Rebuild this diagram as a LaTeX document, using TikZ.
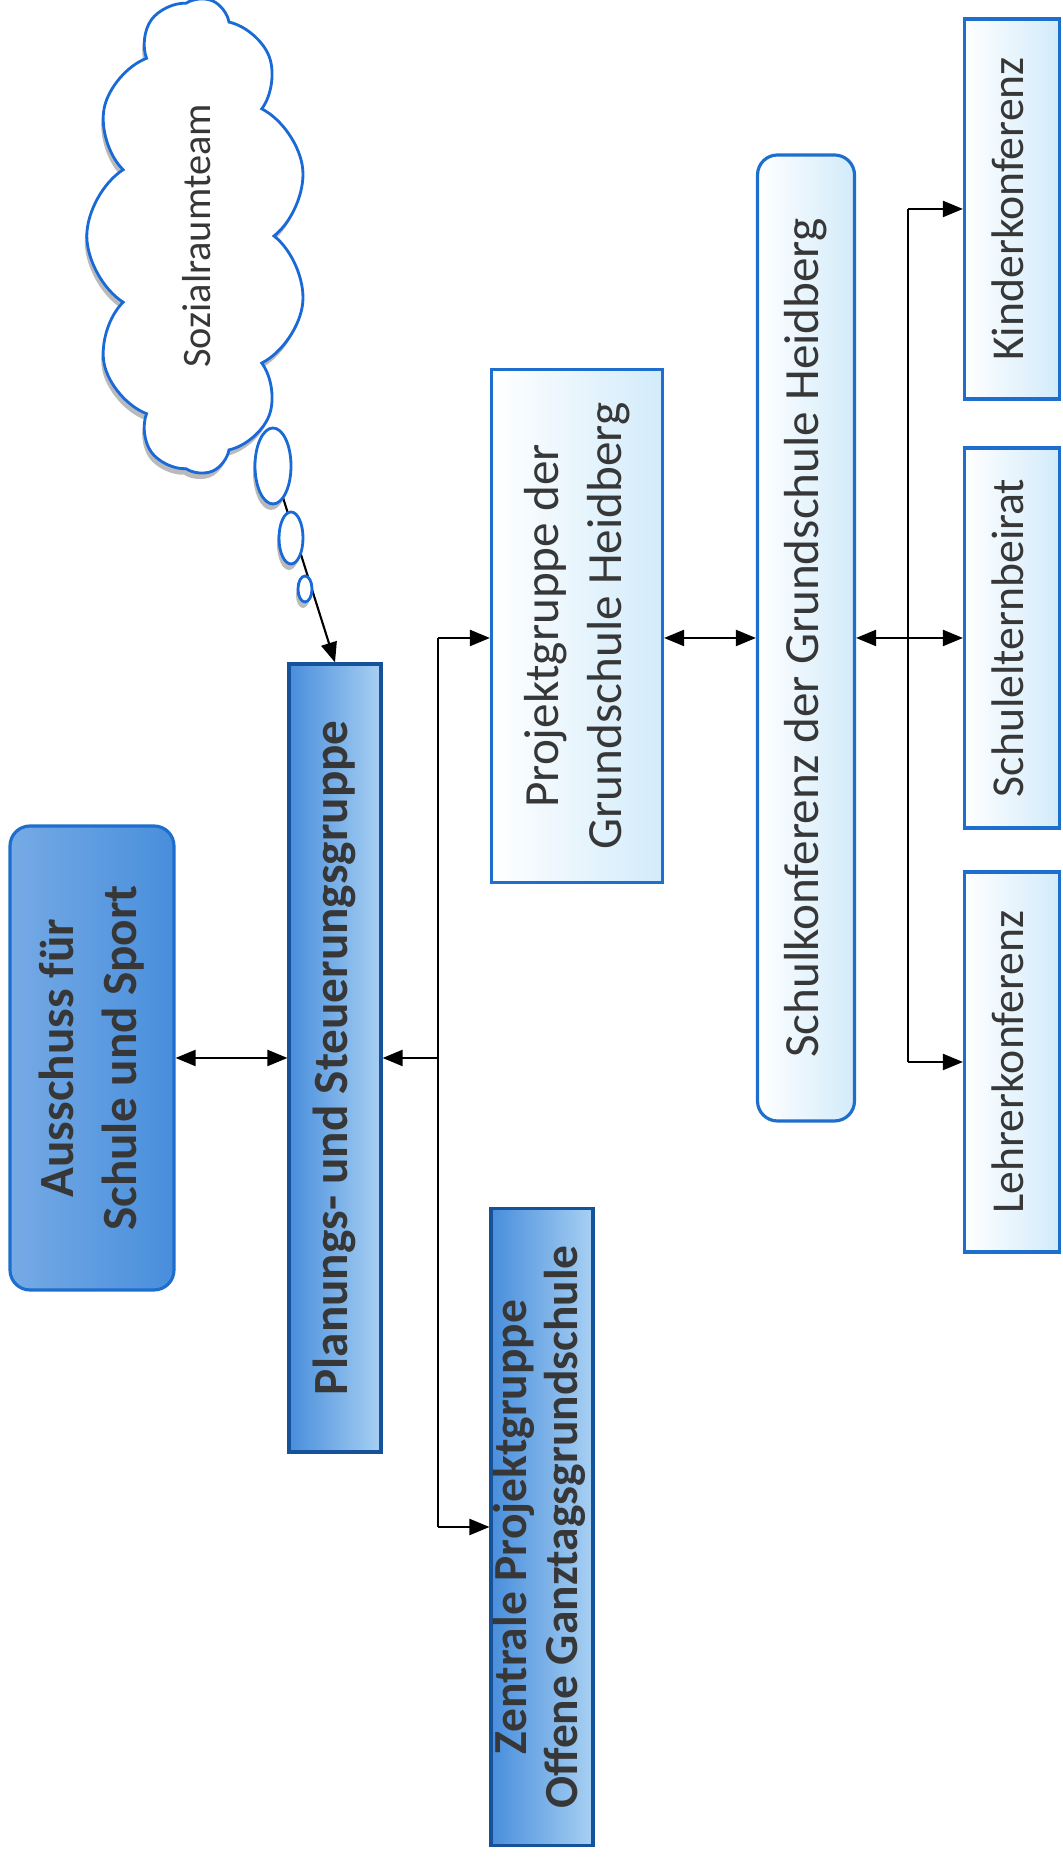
\documentclass[tikz,border=0pt]{standalone}
\usepackage{fontspec}
\setmainfont{Carlito}
\usepackage{graphicx}
\usetikzlibrary{arrows.meta, positioning, shapes.symbols, shapes.geometric, shadows, backgrounds}
\definecolor{boxline}{RGB}{30, 110, 205}
\definecolor{deepblue}{RGB}{72, 142, 220}
\definecolor{paleblue}{RGB}{168, 208, 243}
\definecolor{iceblue}{RGB}{210, 235, 250}
\definecolor{txtgray}{RGB}{55, 55, 55}
\definecolor{cloudblue}{RGB}{25, 105, 215}
\tikzset{
    box/.style     ={draw=boxline, line width=0.9pt, inner sep=0pt,
                     text=txtgray, align=center,
                     font=\fontsize{14}{18}\selectfont},
    lightbox/.style={box, left color=white, right color=iceblue},
    darkbox/.style ={box, draw=boxline!75!black, left color=deepblue,
                     right color=paleblue, font=\fontsize{14}{18}\selectfont\bfseries},
    smallbox/.style={lightbox, minimum width=0.95cm, minimum height=3.8cm,
                     font=\fontsize{13}{16}\selectfont},
    bubble/.style  ={ellipse, draw=cloudblue, line width=0.8pt, fill=white,
                     inner sep=0pt,
                     drop shadow={shadow xshift=-0.2mm, shadow yshift=-0.6mm,
                                  fill=black!45, opacity=0.6}},
    ln/.style      ={line width=0.6pt, draw=black},
    arr/.style     ={ln, -{Triangle[length=2mm, width=1.6mm]}},
    darr/.style    ={ln, {Triangle[length=2mm, width=1.6mm]}-{Triangle[length=2mm, width=1.6mm]}}
}
\newcommand{\sidetext}[1]{\rotatebox{90}{\begin{tabular}{@{}c@{}}#1\end{tabular}}}

\begin{document}
\begin{tikzpicture}[x=1cm, y=1cm]
  \useasboundingbox (0,0) rectangle (10.63,18.71);

  % left column
  \node[box, rounded corners=2mm, minimum width=1.64cm, minimum height=4.64cm,
        left color=deepblue!75, middle color=white, right color=deepblue,
        font=\fontsize{14}{18}\selectfont\bfseries]
        (aus) at (0.92, 8.13) {\sidetext{Ausschuss für\\Schule und Sport}};
  \node[darkbox, minimum width=0.92cm, minimum height=7.88cm]
        (plan) at (3.35, 8.13) {\sidetext{Planungs- und Steuerungsgruppe}};

  % thought cloud
  \node[cloud, cloud puffs=11, cloud puff arc=115, aspect=2.2, rotate=90,
        draw=cloudblue, line width=0.8pt, fill=white, inner sep=0pt,
        minimum width=4.75cm, minimum height=2.15cm,
        drop shadow={shadow xshift=-0.2mm, shadow yshift=-0.6mm,
                     fill=black!45, opacity=0.6},
        text=txtgray, font=\fontsize{11.5}{13}\selectfont]
        (cloud) at (1.97, 16.35) {Sozialraumteam};
  \node[bubble, minimum width=0.36cm, minimum height=0.76cm] (b1) at (2.73, 14.05) {};
  \node[bubble, minimum width=0.24cm, minimum height=0.52cm] (b2) at (2.91, 13.33) {};
  \node[bubble, minimum width=0.14cm, minimum height=0.26cm] (b3) at (3.05, 12.82) {};

  % middle column
  \node[lightbox, minimum width=1.71cm, minimum height=5.13cm]
        (proj) at (5.77, 12.45) {\sidetext{Projektgruppe der\\Grundschule Heidberg}};
  \node[darkbox, minimum width=0.95cm, minimum height=6.37cm,
        font=\fontsize{13.5}{14.5}\selectfont\bfseries]
        (zen) at (5.42, 3.44) {\sidetext{Zentrale Projektgruppe\\Offene Ganztagsgrundschule}};
  \node[lightbox, rounded corners=2mm, minimum width=0.97cm, minimum height=9.66cm]
        (schulk) at (8.06, 12.33) {\sidetext{Schulkonferenz der Grundschule Heidberg}};

  % right column
  \node[smallbox] (kinder) at (10.12, 16.62) {\sidetext{Kinderkonferenz}};
  \node[smallbox] (eltern) at (10.12, 12.33) {\sidetext{Schulelternbeirat}};
  \node[smallbox] (lehrer) at (10.12, 8.09) {\sidetext{Lehrerkonferenz}};

  % connectors
  \coordinate (busA) at (4.38, 0);
  \coordinate (busB) at (9.08, 0);

  \begin{pgfonlayer}{background}
    \draw[arr] (b1.center) -- (plan.north);
  \end{pgfonlayer}

  \draw[darr] (aus.east) -- (plan.west);
  \draw[ln]   (busA |- schulk.west) -- (busA |- zen.west);
  \draw[arr]  (busA |- plan.east) -- (plan.east);
  \draw[arr]  (busA |- schulk.west) -- (proj.west |- schulk.west);
  \draw[arr]  (busA |- zen.west) -- (zen.west);

  \draw[darr] (proj.east |- schulk.west) -- (schulk.west);
  \draw[darr] (schulk.east) -- (eltern.west);
  \draw[ln]   (busB |- kinder.west) -- (busB |- lehrer.west);
  \draw[arr]  (busB |- kinder.west) -- (kinder.west);
  \draw[arr]  (busB |- lehrer.west) -- (lehrer.west);
\end{tikzpicture}
\end{document}
